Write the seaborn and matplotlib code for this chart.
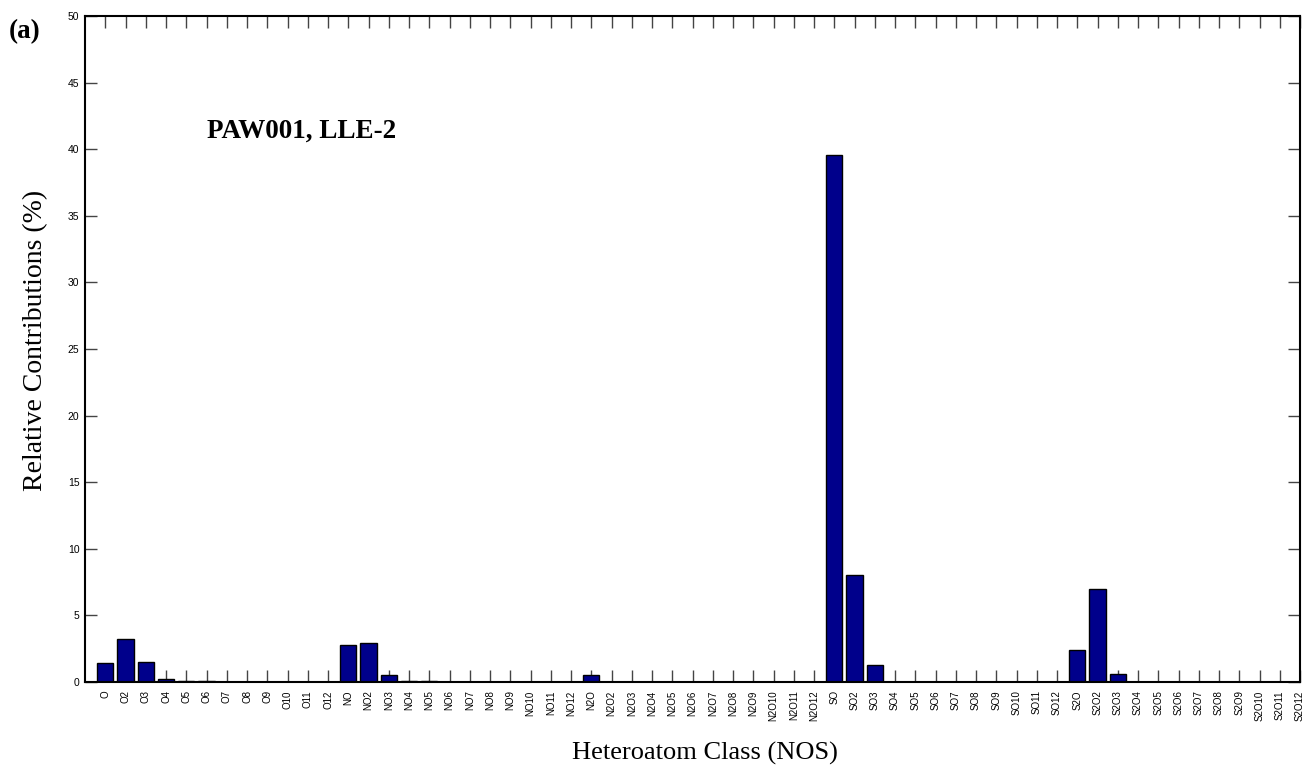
import numpy as np
import pandas as pd
import matplotlib
matplotlib.use("Agg")
import matplotlib.pyplot as plt
import seaborn as sns

groups = ["O", "NO", "N2O", "SO", "S2O"]
categories = []
for g in groups:
    categories.append(g)
    for k in range(2, 13):
        categories.append(f"{g}{k}")

o_vals   = [1.4, 3.2, 1.5, 0.2, 0.1, 0.05, 0, 0, 0, 0, 0, 0]
no_vals  = [2.75, 2.9, 0.5, 0.1, 0.05, 0, 0, 0, 0, 0, 0, 0]
n2o_vals = [0.5, 0, 0, 0, 0, 0, 0, 0, 0, 0, 0, 0]
so_vals  = [39.6, 8.0, 1.3, 0, 0, 0, 0, 0, 0, 0, 0, 0]
s2o_vals = [2.4, 7.0, 0.58, 0, 0, 0, 0, 0, 0, 0, 0, 0]
values = o_vals + no_vals + n2o_vals + so_vals + s2o_vals

y_ticks = [0, 5, 10, 15, 20, 25, 30, 35, 40, 45, 50]

df = pd.DataFrame({"cls": categories, "val": values})

sns.set_theme(style="white")
plt.rcParams["font.family"] = ["Liberation Sans", "DejaVu Sans"]
plt.rcParams["text.color"] = "black"
plt.rcParams["axes.labelcolor"] = "black"

W, H = 1306, 767
fig = plt.figure(figsize=(W / 100, H / 100), dpi=100)
ax = fig.add_axes([85 / W, 1 - 682 / H, 1215 / W, 666 / H])

sns.barplot(data=df, x="cls", y="val", ax=ax, color="#00008B",
            saturation=1, width=0.8, edgecolor="black", linewidth=1.0)

ax.set_xlim(-1, 59)
ax.set_ylim(0, 50)
ax.set_yticks(y_ticks)
ax.set_yticklabels([str(v) for v in y_ticks], fontsize=7.5)
ax.set_xticks(range(len(categories)))
ax.set_xticklabels(categories, rotation=90, fontsize=7)

for s in ax.spines.values():
    s.set_visible(True)
    s.set_color("black")
    s.set_linewidth(1.5)

ax.tick_params(axis="both", which="major", direction="in", length=8.5,
               width=1.0, color="#444444", labelcolor="black",
               top=True, right=True, bottom=True, left=True, pad=4)
ax.tick_params(axis="x", pad=6)

ax.set_xlabel("")
ax.set_ylabel("")
fig.text(705 / W, 1 - 760 / H, "Heteroatom Class (NOS)",
         family="Liberation Serif", fontsize=19, ha="center", va="baseline",
         color="black")
fig.text(36 / W, 1 - 340 / H, "Relative Contributions (%)",
         family="Liberation Serif", fontsize=20, rotation=90,
         ha="center", va="center", color="black")

ax.text(5.0, 40.85, "PAW001, LLE-2", family="Liberation Serif",
        fontweight="bold", fontsize=19.5, ha="left", va="baseline",
        color="black")
fig.text(9 / W, 1 - 38 / H, "(a)", family="Liberation Serif",
         fontweight="bold", fontsize=19.5, ha="left", va="baseline",
         color="black")

fig.savefig("out.png", dpi=100)
